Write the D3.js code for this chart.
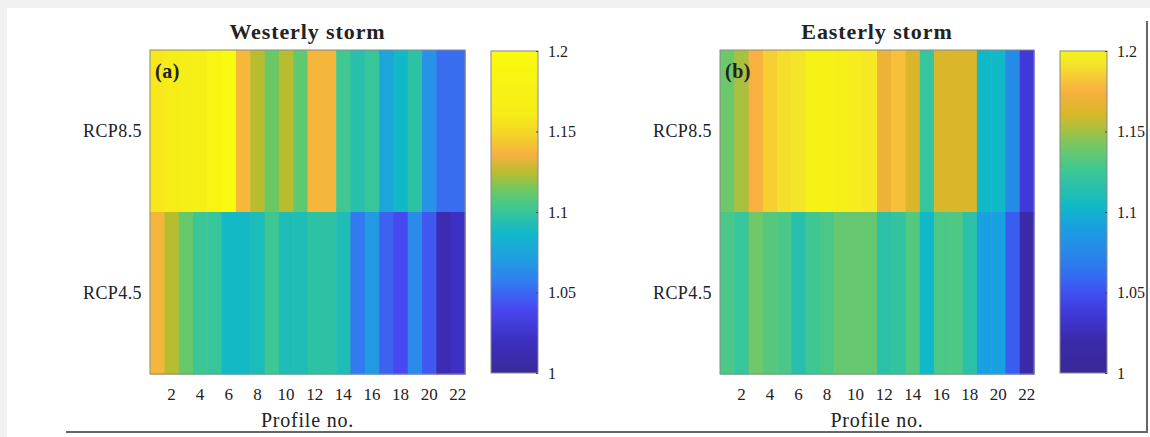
<!DOCTYPE html>
<html>
<head>
<meta charset="utf-8">
<script src="https://cdn.jsdelivr.net/npm/d3@7"></script>
<style>
  html, body { margin: 0; padding: 0; background: #f1f1f1; }
  svg { display: block; }
  text { font-family: "Liberation Serif", "DejaVu Serif", serif; fill: #222; }
</style>
</head>
<body>
<svg id="chart" width="1150" height="437"></svg>
<script>
// ---------------- data ----------------
const profiles = d3.range(1, 23);
const scenarios = ["RCP8.5", "RCP4.5"];
const xTickLabels = [2, 4, 6, 8, 10, 12, 14, 16, 18, 20, 22];
const colorbarTicks = [1, 1.05, 1.1, 1.15, 1.2];

const westerlyRCP85 = [1.158, 1.160, 1.165, 1.170, 1.185, 1.200, 1.138, 1.124, 1.113, 1.124, 1.110,
                       1.137, 1.137, 1.103, 1.095, 1.100, 1.075, 1.087, 1.097, 1.066, 1.052, 1.052];
const westerlyRCP45 = [1.137, 1.124, 1.112, 1.101, 1.100, 1.088, 1.088, 1.091, 1.102, 1.092, 1.092,
                       1.097, 1.097, 1.092, 1.056, 1.070, 1.048, 1.040, 1.063, 1.045, 1.012, 1.022];
const easterlyRCP85 = [1.139, 1.151, 1.175, 1.185, 1.190, 1.192, 1.200, 1.200, 1.198, 1.196, 1.194,
                       1.170, 1.180, 1.162, 1.122, 1.162, 1.162, 1.162, 1.103, 1.103, 1.077, 1.037];
const easterlyRCP45 = [1.130, 1.122, 1.140, 1.133, 1.130, 1.115, 1.125, 1.130, 1.137, 1.137, 1.137,
                       1.117, 1.120, 1.132, 1.103, 1.130, 1.131, 1.117, 1.091, 1.091, 1.055, 1.018];

// colormap stops (value -> colour)
const westerlyStops = [1.000, 1.020, 1.040, 1.058, 1.072, 1.087, 1.103, 1.114, 1.124, 1.135, 1.148, 1.160, 1.200];
const westerlyColors = ["#3a2a9a", "#3c2ec0", "#4848f0", "#3080f0", "#20a0e0", "#10b8c8", "#40c890",
                        "#70c860", "#b8bd30", "#f5b040", "#f3d428", "#f6ec18", "#f9fb0e"];
const easterlyStops = [1.000, 1.020, 1.037, 1.050, 1.062, 1.075, 1.091, 1.103, 1.127, 1.140, 1.151,
                       1.161, 1.175, 1.192, 1.200];
const easterlyColors = ["#38289a", "#3a2aa8", "#4038d8", "#4050f0", "#3070f0", "#2888e8", "#18a0e0",
                        "#10b8c8", "#40c890", "#70c868", "#a8c040", "#d8b828", "#f8b040", "#f5e52a", "#f7f215"];

// ---------------- layout ----------------
const svg = d3.select("#chart");
svg.append("rect").attr("x", 7).attr("y", 8).attr("width", 1143).attr("height", 429).attr("fill", "#ffffff");
svg.append("line").attr("x1", 1147).attr("x2", 1147).attr("y1", 21).attr("y2", 433)
   .attr("stroke", "#666").attr("stroke-width", 2);
svg.append("line").attr("x1", 66).attr("x2", 1148).attr("y1", 432).attr("y2", 432)
   .attr("stroke", "#666").attr("stroke-width", 2);

const panels = [
  { title: "Westerly storm", tag: "(a)", rows: [westerlyRCP85, westerlyRCP45],
    stops: westerlyStops, colors: westerlyColors, x0: 150, x1: 465, cbX: 491 },
  { title: "Easterly storm", tag: "(b)", rows: [easterlyRCP85, easterlyRCP45],
    stops: easterlyStops, colors: easterlyColors, x0: 720, x1: 1034, cbX: 1060 }
];
const y0 = 50, y1 = 374, cbW = 47;

panels.forEach((p, pi) => {
  const g = svg.append("g");
  const x = d3.scaleBand().domain(profiles).range([p.x0, p.x1]);
  const y = d3.scaleBand().domain(scenarios).range([y0, y1]);
  const color = d3.scaleLinear().domain(p.stops).range(p.colors).interpolate(d3.interpolateRgb).clamp(true);

  const cells = [];
  scenarios.forEach((s, si) => profiles.forEach((pr, i) => cells.push({ s, pr, v: p.rows[si][i] })));

  g.selectAll("rect.cell").data(cells).join("rect")
    .attr("class", "cell")
    .attr("x", d => x(d.pr))
    .attr("y", d => y(d.s))
    .attr("width", x.bandwidth() + 0.6)
    .attr("height", y.bandwidth() + 0.6)
    .attr("fill", d => color(d.v));

  g.append("rect").attr("x", p.x0).attr("y", y0).attr("width", p.x1 - p.x0).attr("height", y1 - y0)
    .attr("fill", "none").attr("stroke", "#8a8a8a").attr("stroke-width", 1);

  // title and panel tag
  g.append("text").attr("x", (p.x0 + p.x1) / 2).attr("y", 39).attr("text-anchor", "middle")
    .style("font-weight", "bold").style("font-size", "22px").style("letter-spacing", "0.9px").text(p.title);
  g.append("text").attr("x", p.x0 + 5).attr("y", 78)
    .style("font-weight", "bold").style("font-size", "20px").style("letter-spacing", "0.5px").text(p.tag);

  // y axis labels
  const yAxis = d3.axisLeft(y).tickSize(0).tickPadding(8);
  g.append("g").attr("transform", `translate(${p.x0},0)`).call(yAxis)
    .call(a => a.select(".domain").remove())
    .selectAll("text").style("font-size", "18px").style("letter-spacing", "0.4px")
    .style("font-family", "Liberation Serif, serif").attr("fill", "#333");

  // x axis
  const xAxis = d3.axisBottom(x).tickValues(xTickLabels).tickSize(0).tickPadding(14);
  g.append("g").attr("transform", `translate(0,${y1})`).call(xAxis)
    .call(a => a.select(".domain").remove())
    .selectAll("text").style("font-size", "17px").style("font-family", "Liberation Serif, serif").attr("fill", "#333");
  g.append("text").attr("x", (p.x0 + p.x1) / 2).attr("y", 427).attr("text-anchor", "middle")
    .style("font-size", "20px").style("letter-spacing", "0.8px").attr("fill", "#333").text("Profile no.");

  // colour bar
  const cbScale = d3.scaleLinear().domain([1, 1.2]).range([373, 51]);
  const gradId = "grad" + pi;
  const grad = svg.append("defs").append("linearGradient").attr("id", gradId)
    .attr("x1", 0).attr("x2", 0).attr("y1", 1).attr("y2", 0);
  grad.selectAll("stop").data(p.stops).join("stop")
    .attr("offset", d => (d - 1) / 0.2)
    .attr("stop-color", (d, i) => p.colors[i]);
  g.append("rect").attr("x", p.cbX).attr("y", 51).attr("width", cbW).attr("height", 322)
    .attr("fill", `url(#${gradId})`).attr("stroke", "#8a8a8a").attr("stroke-width", 1);
  const cbAxis = d3.axisRight(cbScale).tickValues(colorbarTicks).tickSize(-2).tickPadding(10)
    .tickFormat(d => String(+d.toFixed(2)));
  g.append("g").attr("transform", `translate(${p.cbX + cbW},0)`).call(cbAxis)
    .call(a => a.select(".domain").remove())
    .call(a => a.selectAll("line").attr("stroke", "#444"))
    .selectAll("text").style("font-size", "16px").style("font-family", "Liberation Serif, serif").attr("fill", "#333");
});
</script>
</body>
</html>
